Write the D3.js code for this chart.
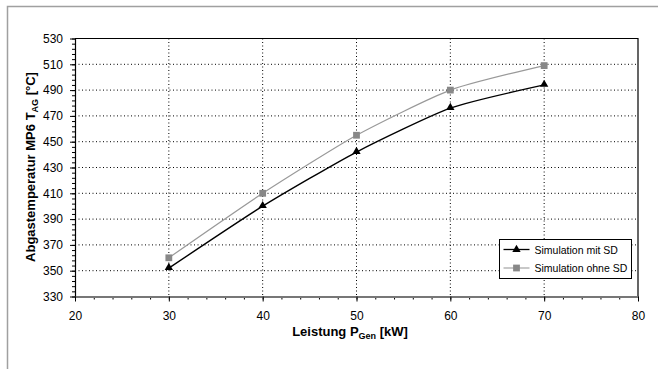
<!DOCTYPE html>
<html>
<head>
<meta charset="utf-8">
<script src="https://cdn.jsdelivr.net/npm/d3@7"></script>
<style>
  body { margin: 0; background: #fff; }
  svg text { font-family: "Liberation Sans", Arial, sans-serif; }
</style>
</head>
<body>
<svg id="chart" width="658" height="369"></svg>
<script>
const leistung = [30, 40, 50, 60, 70];
const mitSD = [352, 400, 442, 476, 494];
const ohneSD = [360, 410, 455, 490, 509];
const xTicks = [20, 30, 40, 50, 60, 70, 80];
const yTicks = [330, 350, 370, 390, 410, 430, 450, 470, 490, 510, 530];

const svg = d3.select("#chart");

// outer frame (cut off at right and bottom)
svg.append("rect")
  .attr("x", 7.5).attr("y", 6.5)
  .attr("width", 700).attr("height", 400)
  .attr("fill", "none")
  .attr("stroke", "#a0a0a0")
  .attr("stroke-width", 1.5);

const pLeft = 75, pTop = 38.5, pRight = 638, pBottom = 296.5;

const x = d3.scaleLinear().domain([20, 80]).range([pLeft, pRight]);
const y = d3.scaleLinear().domain([330, 530]).range([pBottom, pTop]);

// grid
svg.append("g").selectAll("line")
  .data(xTicks.slice(1, -1))
  .join("line")
  .attr("x1", d => x(d)).attr("x2", d => x(d))
  .attr("y1", pTop).attr("y2", pBottom)
  .attr("stroke", "#000").attr("stroke-dasharray", "1,2.5");

svg.append("g").selectAll("line")
  .data(yTicks.slice(1, -1))
  .join("line")
  .attr("x1", pLeft).attr("x2", pRight)
  .attr("y1", d => y(d)).attr("y2", d => y(d))
  .attr("stroke", "#000").attr("stroke-dasharray", "1,2.5");

// plot border top/right
svg.append("path")
  .attr("d", `M${pLeft},${pTop}H${pRight}V${pBottom}`)
  .attr("fill", "none").attr("stroke", "#000").attr("stroke-width", 1.2);

// minor ticks
const yAxisMinor = d3.axisLeft(y).tickValues(d3.range(330, 531, 4)).tickSize(3).tickFormat("");
const gyMinor = svg.append("g").attr("transform", `translate(${pLeft},0)`).call(yAxisMinor);
gyMinor.select(".domain").remove();

const xAxisMinor = d3.axisBottom(x).tickValues(d3.range(20, 81, 2)).tickSize(3).tickFormat("");
const gxMinor = svg.append("g").attr("transform", `translate(0,${pBottom})`).call(xAxisMinor);
gxMinor.select(".domain").remove();

// axes
const gy = svg.append("g")
  .attr("transform", `translate(${pLeft},0)`)
  .call(d3.axisLeft(y).tickValues(yTicks).tickSize(5).tickSizeOuter(0).tickPadding(7));
gy.select(".domain").attr("stroke-width", 1.2);

const gx = svg.append("g")
  .attr("transform", `translate(0,${pBottom})`)
  .call(d3.axisBottom(x).tickValues(xTicks).tickSize(5).tickSizeOuter(0).tickPadding(10));
gx.select(".domain").attr("stroke", "#777").attr("stroke-width", 2);

svg.selectAll(".tick text")
  .attr("font-size", 12)
  .attr("fill", "#000");

// lines (mild smoothing like the original)
const line = d3.line()
  .x((d, i) => x(leistung[i]))
  .y(d => y(d))
  .curve(d3.curveCardinal.tension(0.4));

svg.append("path").datum(ohneSD)
  .attr("d", line).attr("fill", "none")
  .attr("stroke", "#999").attr("stroke-width", 1.2);

svg.append("path").datum(mitSD)
  .attr("d", line).attr("fill", "none")
  .attr("stroke", "#000").attr("stroke-width", 1.4);

// markers
const sq = d3.symbol().type(d3.symbolSquare).size(46);
const tri = d3.symbol().type(d3.symbolTriangle).size(30);

svg.append("g").selectAll("path")
  .data(ohneSD)
  .join("path")
  .attr("d", sq)
  .attr("transform", (d, i) => `translate(${x(leistung[i])},${y(d)})`)
  .attr("fill", "#888");

svg.append("g").selectAll("path")
  .data(mitSD)
  .join("path")
  .attr("d", tri)
  .attr("transform", (d, i) => `translate(${x(leistung[i])},${y(d) - 0.5})`)
  .attr("fill", "#000");

// axis titles
const yTitle = svg.append("text")
  .attr("transform", "translate(35,167) rotate(-90)")
  .attr("text-anchor", "middle")
  .attr("font-size", 13).attr("font-weight", "bold");
yTitle.append("tspan").text("Abgastemperatur MP6 T");
yTitle.append("tspan").attr("font-size", 9).attr("dy", 2.5).text("AG");
yTitle.append("tspan").attr("dy", -2.5).text(" [°C]");

const xTitle = svg.append("text")
  .attr("x", 350).attr("y", 336)
  .attr("text-anchor", "middle")
  .attr("font-size", 13).attr("font-weight", "bold");
xTitle.append("tspan").text("Leistung P");
xTitle.append("tspan").attr("font-size", 9).attr("dy", 2.5).text("Gen");
xTitle.append("tspan").attr("dy", -2.5).text(" [kW]");

// legend
const legend = svg.append("g").attr("transform", "translate(499.5,239.5)");
legend.append("rect")
  .attr("width", 132).attr("height", 39)
  .attr("fill", "#fff").attr("stroke", "#000");

const legendItems = [
  { name: "Simulation mit SD", color: "#000", marker: tri, markerColor: "#000" },
  { name: "Simulation ohne SD", color: "#aaa", marker: sq, markerColor: "#888" }
];
legendItems.forEach((it, i) => {
  const g = legend.append("g").attr("transform", `translate(0,${10 + i * 18.5})`);
  g.append("line").attr("x1", 4).attr("x2", 30).attr("stroke", it.color).attr("stroke-width", 1.3);
  g.append("path").attr("d", it.marker).attr("transform", "translate(17,0)").attr("fill", it.markerColor);
  g.append("text").attr("x", 35).attr("y", 4).attr("font-size", 10.5).text(it.name);
});
</script>
</body>
</html>
